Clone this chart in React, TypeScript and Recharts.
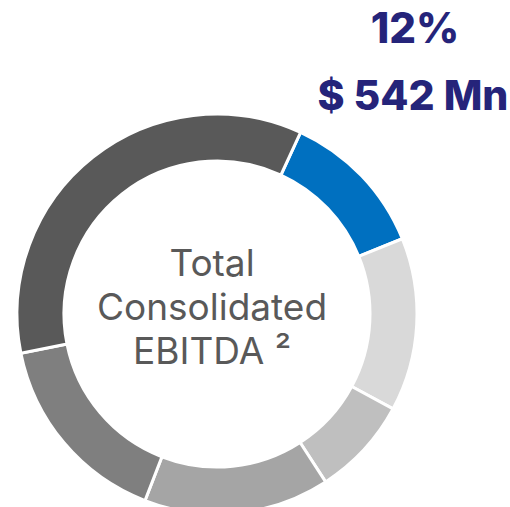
import React from "react";
import { PieChart, Pie, Cell, Label } from "recharts";

const segments = ["Segment A", "Segment B", "Segment C", "Segment D", "Segment E", "Segment F"];
const shares = [12, 14, 8, 15, 16, 35];
const colors = ["#0070C0", "#D9D9D9", "#BFBFBF", "#A5A5A5", "#7F7F7F", "#595959"];
const centerLines = ["Total", "Consolidated", "EBITDA ²"];
const highlightPct = "12%";
const highlightValue = "$ 542 Mn";

const data = segments.map((name, i) => ({ name, value: shares[i] }));

const font = "Inter, 'DejaVu Sans', sans-serif";
const CX = 212;
const CY = 309;

const CenterText = () => (
  <g>
    {centerLines.map((line, i) => (
      <text
        key={line}
        x={CX}
        y={CY - 33 + i * 44}
        textAnchor="middle"
        fontFamily={font}
        fontSize={37}
        fill="#595959"
      >
        {line}
      </text>
    ))}
  </g>
);

const Highlight = () => (
  <g>
    <text x={415} y={43} textAnchor="middle" fontFamily={font} fontWeight={800} fontSize={42} fill="#25247A">
      {highlightPct}
    </text>
    <text x={413} y={110} textAnchor="middle" fontFamily={font} fontWeight={800} fontSize={41} fill="#25247A">
      {highlightValue}
    </text>
  </g>
);

export default function App() {
  return (
    <div style={{ position: "absolute", left: 0, top: 0 }}>
      <PieChart width={510} height={507}>
        <Pie
          data={data}
          dataKey="value"
          nameKey="name"
          cx={CX}
          cy={CY}
          innerRadius={153}
          outerRadius={200}
          startAngle={65.3}
          endAngle={-294.7}
          stroke="#ffffff"
          strokeWidth={3}
          isAnimationActive={false}
        >
          {data.map((d, i) => (
            <Cell key={d.name} fill={colors[i]} />
          ))}
          <Label position="center" content={CenterText} />
          <Label position="center" content={Highlight} />
        </Pie>
      </PieChart>
    </div>
  );
}
